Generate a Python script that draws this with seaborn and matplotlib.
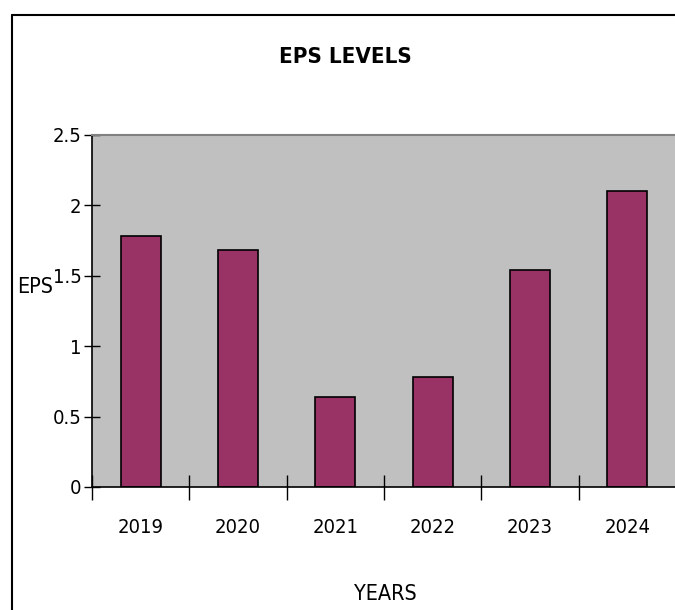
import matplotlib
matplotlib.use("Agg")
import matplotlib.pyplot as plt
from matplotlib.lines import Line2D
import seaborn as sns
import pandas as pd

years = ["2019", "2020", "2021", "2022", "2023", "2024"]
eps = [1.78, 1.68, 0.64, 0.78, 1.54, 2.10]
yticks = [0, 0.5, 1, 1.5, 2, 2.5]
ytick_labels = ["0", "0.5", "1", "1.5", "2", "2.5"]

sns.set_theme(style="white")
plt.rcParams["font.family"] = ["DejaVu Sans"]
plt.rcParams["font.stretch"] = "condensed"
plt.rcParams["text.color"] = "black"
plt.rcParams["axes.labelcolor"] = "black"
plt.rcParams["xtick.color"] = "black"
plt.rcParams["ytick.color"] = "black"

df = pd.DataFrame({"year": years, "eps": eps})

fig = plt.figure(figsize=(6.75, 6.1), dpi=100)
ax = fig.add_axes([92 / 675, 123 / 610, 584 / 675, 352 / 610])
ax.set_facecolor("#C0C0C0")
sns.barplot(data=df, x="year", y="eps", color="#993366", edgecolor="black",
            linewidth=1.2, width=0.41, saturation=1, ax=ax)
ax.set_xlim(-0.5, 5.5)
ax.set_ylim(0, 2.5)

# ticks at category boundaries, labels at centres
ax.set_xticks([i - 0.5 for i in range(len(years) + 1)])
ax.set_xticklabels([])
ax.set_xticks(range(len(years)), minor=True)
ax.set_xticklabels(years, minor=True, fontsize=14.5)
ax.tick_params(axis="x", which="major", bottom=True, direction="inout", length=18,
               width=1, color="black")
ax.tick_params(axis="x", which="minor", bottom=True, length=0, pad=22)
ax.set_yticks(yticks)
ax.set_yticklabels(ytick_labels, fontsize=14.5)
ax.tick_params(axis="y", left=True, direction="inout", length=11, width=1,
               color="black", pad=2)

ax.spines["right"].set_visible(False)
ax.spines["top"].set_color("#808080")
ax.spines["top"].set_linewidth(1.5)
for s in ["left", "bottom"]:
    ax.spines[s].set_color("black")
    ax.spines[s].set_linewidth(1.2)

ax.set_xlabel("YEARS", fontsize=15.5, va="center")
ax.xaxis.set_label_coords((385 - 92) / 584, (487 - 594) / 352)
ax.set_ylabel("EPS", fontsize=15.5, rotation=0, ha="center", va="center")
ax.yaxis.set_label_coords((35 - 92) / 584, (487 - 287) / 352)

fig.text(345 / 675, 1 - 57 / 610, "EPS LEVELS", fontsize=16, fontweight="bold",
         ha="center", va="center")

# outer frame lines
fig.add_artist(Line2D([12 / 675, 12 / 675], [0, 1 - 15 / 610], color="black", lw=1.5,
                      transform=fig.transFigure))
fig.add_artist(Line2D([12 / 675, 1], [1 - 15 / 610, 1 - 15 / 610], color="black", lw=1.5,
                      transform=fig.transFigure))

fig.savefig("out.png", dpi=100)
